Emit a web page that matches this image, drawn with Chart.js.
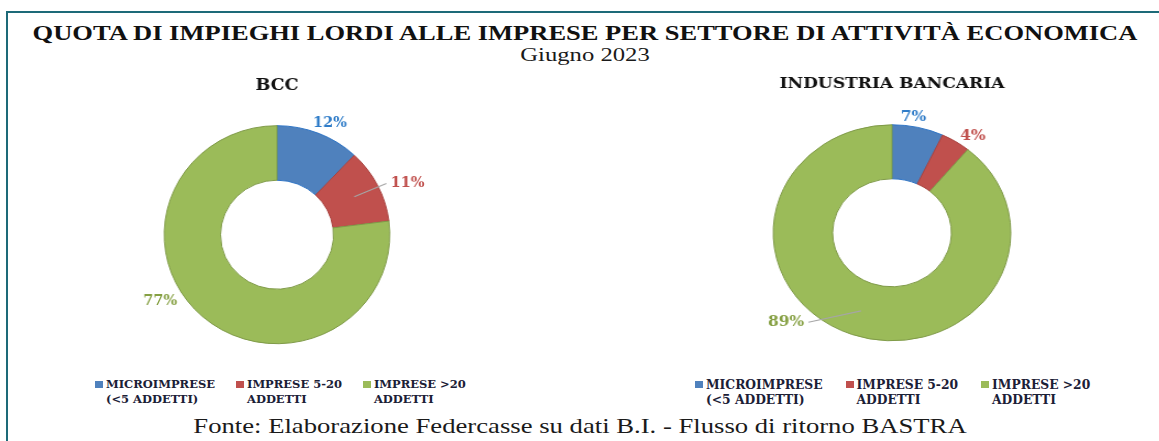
<!DOCTYPE html>
<html>
<head>
<meta charset="utf-8">
<script src="https://cdn.jsdelivr.net/npm/chart.js@4/dist/chart.umd.min.js"></script>
<style>
  body { margin: 0; background: #fff; width: 1159px; height: 441px; overflow: hidden; position: relative; }
  #frame { position: absolute; left: 6px; top: 11px; right: -4px; bottom: -4px; border-top: 2px solid #1d6a78; border-left: 2px solid #1d6a78; }
  .txt { position: absolute; left: 0; width: 1170px; text-align: center; font-family: "Liberation Serif", serif; color: #1a1a1a; transform-origin: 585px 0; }
  #title { top: 20px; font-size: 22px; font-weight: bold; color: #111; transform: scaleX(1.205); }
  #sub { top: 45px; font-size: 18px; transform: scaleX(1.37); }
  #foot { top: 414px; font-size: 21px; transform: scaleX(1.27); transform-origin: 580px 0; width: 1160px; }
  canvas { position: absolute; transform-origin: 220px 0; }
  #bcc { left: 57px; top: 68px; transform: scaleX(1.035); }
  #ind { left: 672px; top: 68px; transform: scaleX(1.1); }
  .legend { position: absolute; top: 377px; display: flex; font-family: "DejaVu Serif", serif; font-weight: bold; color: #1b2036; line-height: 15px; }
  .legend .item { display: flex; align-items: flex-start; }
  .legend .box { width: 8px; height: 7px; margin-top: 4px; margin-right: 3px; flex: none; }
  #legBcc { left: 95px; gap: 21px; font-size: 11.5px; }
  #legInd { left: 695px; gap: 23px; font-size: 12.3px; }
</style>
</head>
<body>
<div id="frame"></div>
<div id="title" class="txt">QUOTA DI IMPIEGHI LORDI ALLE IMPRESE PER SETTORE DI ATTIVITÀ ECONOMICA</div>
<div id="sub" class="txt">Giugno 2023</div>
<canvas id="bcc" width="440" height="297"></canvas>
<canvas id="ind" width="440" height="295"></canvas>
<div id="legBcc" class="legend"></div>
<div id="legInd" class="legend"></div>
<div id="foot" class="txt">Fonte: Elaborazione Federcasse su dati B.I. - Flusso di ritorno BASTRA</div>
<script>
// categorie e quote (%)
const categories = [
  ["MICROIMPRESE", "(<5 ADDETTI)"],
  ["IMPRESE 5-20", "ADDETTI"],
  ["IMPRESE >20", "ADDETTI"],
];
const bccValues = [12, 11, 77];
const industriaValues = [7, 4, 89];

const fillColors = ["#4f81bd", "#c0504d", "#9bbb59"];
const edgeColors = ["#2f74c4", "#a8423f", "#7f9a48"];
const labelColors = ["#2f7cc8", "#c0504d", "#86a043"];
const serif = "'DejaVu Serif', serif";

// etichette percentuali fuori dalla ciambella
const pctLabels = {
  id: "pctLabels",
  afterDatasetsDraw(chart, args, opts) {
    const ctx = chart.ctx;
    const meta = chart.getDatasetMeta(0);
    const data = chart.data.datasets[0].data;
    const total = data.reduce((a, b) => a + b, 0);
    ctx.save();
    ctx.font = "bold 14px " + serif;
    ctx.textBaseline = "middle";
    meta.data.forEach((arc, i) => {
      const p = opts.place[i];
      const mid = (arc.startAngle + arc.endAngle) / 2 + (p.shift * Math.PI) / 180;
      const r = arc.outerRadius + p.dist;
      const lx = arc.x + Math.cos(mid) * r;
      const ly = arc.y + Math.sin(mid) * r;
      const txt = Math.round((data[i] / total) * 100) + "%";
      const right = Math.cos(mid) >= 0;
      if (p.leader) {
        const a0 = (arc.startAngle + arc.endAngle) / 2;
        const r0 = (arc.innerRadius + arc.outerRadius) / 2 + 2;
        ctx.strokeStyle = "#a6a6a6";
        ctx.lineWidth = 1.2;
        ctx.beginPath();
        ctx.moveTo(arc.x + Math.cos(a0) * r0, arc.y + Math.sin(a0) * r0);
        ctx.lineTo(lx + (right ? -4 : 4), ly);
        ctx.stroke();
        ctx.textAlign = right ? "left" : "right";
      } else {
        ctx.textAlign = "center";
      }
      ctx.fillStyle = labelColors[i];
      ctx.fillText(txt, lx, ly);
    });
    ctx.restore();
  },
};

// legenda html (etichette su due righe, come nell'originale)
function buildLegend(el, chart) {
  const box = document.getElementById(el);
  chart.data.labels.forEach((lab, i) => {
    const item = document.createElement("div");
    item.className = "item";
    item.innerHTML =
      '<span class="box" style="background:' + fillColors[i] + '"></span><span></span>';
    item.lastChild.innerText = lab.join("\n");
    box.appendChild(item);
  });
}

function makeDonut(el, title, values, radius, titleSize, place) {
  return new Chart(document.getElementById(el), {
    type: "doughnut",
    data: {
      labels: categories,
      datasets: [
        {
          data: values,
          backgroundColor: fillColors,
          borderColor: edgeColors,
          borderWidth: 1,
        },
      ],
    },
    options: {
      responsive: false,
      animation: false,
      radius: radius,
      cutout: "50%",
      layout: { padding: 0 },
      plugins: {
        title: {
          display: true,
          text: title,
          color: "#111",
          font: { family: serif, size: titleSize, weight: "bold" },
          padding: { top: 7, bottom: 9 },
        },
        legend: { display: false },
        tooltip: { enabled: false },
        pctLabels: { place: place },
      },
    },
    plugins: [pctLabels],
  });
}

const bccChart = makeDonut("bcc", "BCC", bccValues, 109, 17, [
  { shift: 3, dist: 14, leader: false },
  { shift: 2, dist: 12, leader: true },
  { shift: 18, dist: 22, leader: false },
]);
const indChart = makeDonut("ind", "INDUSTRIA BANCARIA", industriaValues, 108, 15.5, [
  { shift: -3, dist: 9, leader: false },
  { shift: 5, dist: 13, leader: false },
  { shift: 22, dist: 12, leader: true },
]);
buildLegend("legBcc", bccChart);
buildLegend("legInd", indChart);
</script>
</body>
</html>
